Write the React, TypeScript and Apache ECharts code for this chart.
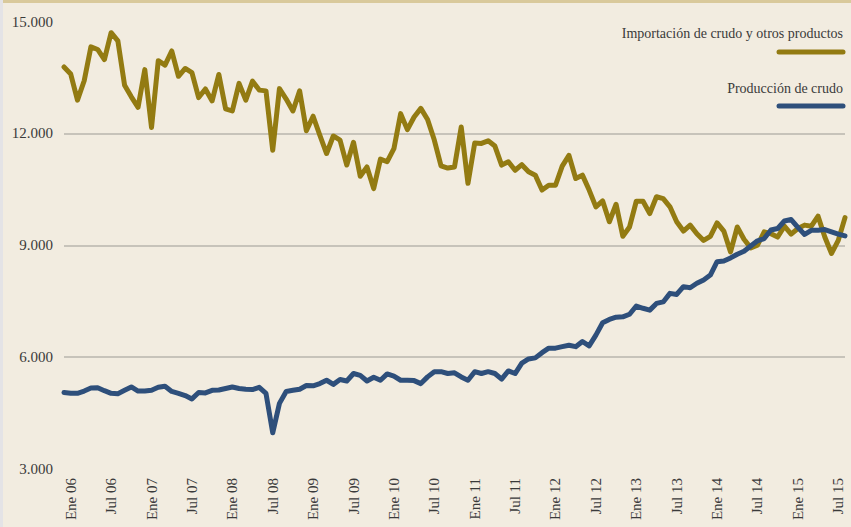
import React, { useEffect, useRef } from "react";
import * as echarts from "echarts";

const MONTHS = ["Ene", "Feb", "Mar", "Abr", "May", "Jun", "Jul", "Ago", "Sep", "Oct", "Nov", "Dic"];
const START_YEAR = 5; // Dic 05
const START_MONTH = 11;
const N_MONTHS = 117; // Dic 05 .. Ago 15

const categories: string[] = [];
for (let i = 0; i < N_MONTHS; i++) {
  const m = (START_MONTH + i) % 12;
  const y = START_YEAR + Math.floor((START_MONTH + i) / 12);
  categories.push(`${MONTHS[m]} ${String(y).padStart(2, "0")}`);
}

const importacion = [
  13780, 13590, 12890, 13410, 14320, 14250, 13980, 14700, 14480, 13290,
  12980, 12700, 13710, 12160, 13950, 13830, 14210, 13530, 13740, 13630,
  12960, 13190, 12870, 13580, 12660, 12600, 13340, 12890, 13400, 13160,
  13140, 11550, 13200, 12920, 12600, 13140, 12070, 12460, 11950, 11460,
  11930, 11820, 11150, 11760, 10850, 11100, 10520, 11310, 11240, 11590,
  12530, 12100, 12440, 12670, 12370, 11820, 11130, 11070, 11100, 12170,
  10660, 11740, 11730, 11800, 11660, 11150, 11240, 11010, 11160, 10970,
  10880, 10480, 10610, 10610, 11120, 11410, 10790, 10880, 10480, 10030,
  10190, 9630, 10100, 9240, 9490, 10180, 10180, 9850, 10300, 10250,
  10030, 9630, 9380, 9540, 9310, 9130, 9240, 9600, 9380, 8820,
  9490, 9160, 8930, 9000, 9360, 9310, 9220, 9510, 9300, 9450,
  9540, 9510, 9780, 9220, 8780, 9130, 9740,
];

const produccion = [
  5050, 5030, 5030, 5090, 5170, 5180, 5100, 5030, 5020, 5110,
  5200, 5090, 5090, 5110, 5190, 5220, 5080, 5030, 4970, 4880,
  5050, 5040, 5110, 5120, 5160, 5200, 5160, 5140, 5130, 5190,
  5030, 3970, 4760, 5080, 5110, 5140, 5240, 5230, 5290, 5380,
  5270, 5400, 5360, 5560, 5510, 5360, 5460, 5380, 5550, 5490,
  5380, 5380, 5370, 5290, 5470, 5610, 5610, 5560, 5580, 5470,
  5380, 5610, 5560, 5610, 5560, 5410, 5630, 5560, 5840, 5950,
  5980, 6120, 6240, 6240, 6280, 6320, 6280, 6420, 6300, 6590,
  6920, 7010, 7070, 7080, 7150, 7370, 7310, 7260, 7440, 7480,
  7710, 7680, 7890, 7860, 7980, 8070, 8200, 8560, 8580, 8660,
  8760, 8840, 8980, 9120, 9180, 9410, 9450, 9650, 9690, 9480,
  9290, 9400, 9400, 9420, 9360, 9300, 9250,
];

const Y_MIN = 3000;
const Y_MAX = 15000;
const Y_STEP = 3000;

const SERIES_NAMES = ["Importación de crudo y otros productos", "Producción de crudo"];
const COLORS = ["#937b12", "#2e4f7b"];

const FONT = "'Liberation Serif', 'Times New Roman', serif";
const TEXT_COLOR = "#3a3a3a";

function fmtThousands(v: number): string {
  const s = String(Math.round(v));
  return s.replace(/\B(?=(\d{3})+(?!\d))/g, ".");
}

export default function App() {
  const ref = useRef<HTMLDivElement>(null);

  useEffect(() => {
    if (!ref.current) return;
    const chart = echarts.init(ref.current, undefined, { renderer: "svg" });
    chart.setOption({
      animation: false,
      backgroundColor: "#f2ece0",
      grid: { left: 64, right: 6, top: 21.5, bottom: 58, containLabel: false },
      xAxis: {
        type: "category",
        data: categories,
        boundaryGap: false,
        axisLine: { show: false },
        axisTick: { show: false },
        splitLine: { show: false },
        axisLabel: {
          interval: (_i: number, v: string) => v.startsWith("Ene") || v.startsWith("Jul"),
          rotate: 90,
          margin: 9,
          fontFamily: FONT,
          fontSize: 15,
          color: TEXT_COLOR,
        },
      },
      yAxis: {
        type: "value",
        min: Y_MIN,
        max: Y_MAX,
        interval: Y_STEP,
        axisLine: { show: false },
        axisTick: { show: false },
        axisLabel: {
          formatter: (v: number) => fmtThousands(v),
          margin: 11,
          fontFamily: FONT,
          fontSize: 15,
          color: TEXT_COLOR,
        },
        splitLine: {
          show: true,
          lineStyle: {
            color: ["rgba(0,0,0,0)", "#b9b6ae", "#b9b6ae", "#b9b6ae", "rgba(0,0,0,0)"],
            width: 1.5,
          },
        },
      },
      series: [
        {
          name: SERIES_NAMES[0],
          type: "line",
          data: importacion,
          showSymbol: false,
          symbol: "none",
          lineStyle: { color: COLORS[0], width: 5, join: "round", cap: "round" },
          z: 2,
        },
        {
          name: SERIES_NAMES[1],
          type: "line",
          data: produccion,
          showSymbol: false,
          symbol: "none",
          lineStyle: { color: COLORS[1], width: 5, join: "round", cap: "round" },
          z: 3,
        },
      ],
      graphic: [
        { type: "rect", left: 0, top: 0, shape: { width: 851, height: 3 }, style: { fill: "#d9c99b" }, silent: true },
        { type: "rect", left: 0, top: 0, shape: { width: 3, height: 527 }, style: { fill: "#e4e3e6" }, silent: true },
        {
          type: "text",
          x: 843,
          y: 33,
          style: {
            text: SERIES_NAMES[0],
            textAlign: "right",
            textVerticalAlign: "middle",
            font: `14px ${FONT}`,
            fill: TEXT_COLOR,
          },
        },
        {
          type: "line",
          shape: { x1: 779, y1: 52, x2: 843, y2: 52 },
          style: { stroke: COLORS[0], lineWidth: 5, lineCap: "round" },
        },
        {
          type: "text",
          x: 843,
          y: 88,
          style: {
            text: SERIES_NAMES[1],
            textAlign: "right",
            textVerticalAlign: "middle",
            font: `14px ${FONT}`,
            fill: TEXT_COLOR,
          },
        },
        {
          type: "line",
          shape: { x1: 779, y1: 106, x2: 843, y2: 106 },
          style: { stroke: COLORS[1], lineWidth: 5, lineCap: "round" },
        },
      ],
    });
    return () => chart.dispose();
  }, []);

  return (
    <div
      ref={ref}
      style={{ position: "absolute", left: 0, top: 0, width: 851, height: 527 }}
    />
  );
}
